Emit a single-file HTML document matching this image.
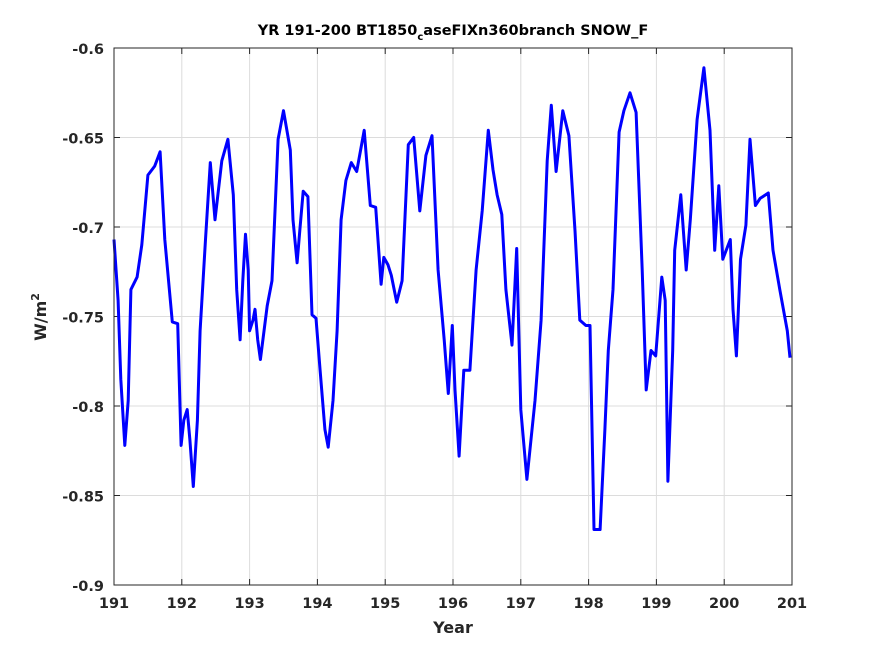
<!DOCTYPE html>
<html><head><meta charset="utf-8">
<style>
html,body{margin:0;padding:0;background:#fff;}
svg{display:block;font-family:"DejaVu Sans","Liberation Sans",sans-serif;}
</style></head>
<body>
<svg id="chart" width="875" height="656" viewBox="0 0 875 656" xmlns="http://www.w3.org/2000/svg">
<rect width="875" height="656" fill="#fff"/>
<text x="453" y="35" text-anchor="middle" font-size="14.5" font-weight="bold" fill="#000">YR 191-200 BT1850<tspan font-size="10" dy="5">c</tspan><tspan dy="-5">aseFIXn360branch SNOW_F</tspan></text>
<g id="grid"></g>
<g id="ticks"></g>
<path id="series" fill="none" stroke="#0000ff" stroke-width="3" stroke-linejoin="round"/>
<rect x="114" y="48" width="678" height="537" fill="none" stroke="#262626" stroke-width="1"/>
<text x="453" y="633" text-anchor="middle" font-size="16" font-weight="bold" fill="#262626">Year</text>
<text transform="translate(46,317) rotate(-90)" text-anchor="middle" font-size="16" font-weight="bold" fill="#262626">W/m<tspan font-size="11" dy="-7">2</tspan></text>
</svg>
<script>
const xTicks = [191,192,193,194,195,196,197,198,199,200,201];
const yTicks = [-0.9,-0.85,-0.8,-0.75,-0.7,-0.65,-0.6];
const yTickLabels = ["-0.9","-0.85","-0.8","-0.75","-0.7","-0.65","-0.6"];
const years = [191.00,191.06,191.10,191.16,191.21,191.25,191.34,191.41,191.50,191.60,191.68,191.75,191.86,191.94,191.99,192.03,192.08,192.12,192.17,192.23,192.27,192.35,192.42,192.49,192.59,192.68,192.76,192.81,192.86,192.90,192.94,192.98,193.00,193.05,193.08,193.12,193.16,193.26,193.33,193.42,193.50,193.60,193.64,193.70,193.74,193.79,193.86,193.92,193.98,194.04,194.11,194.16,194.23,194.29,194.35,194.42,194.50,194.58,194.69,194.78,194.86,194.94,194.98,195.04,195.09,195.17,195.25,195.34,195.42,195.51,195.60,195.69,195.78,195.87,195.93,195.99,196.03,196.09,196.16,196.25,196.34,196.43,196.52,196.59,196.65,196.72,196.78,196.87,196.94,197.00,197.09,197.21,197.30,197.39,197.45,197.52,197.62,197.71,197.80,197.87,197.96,198.02,198.08,198.17,198.24,198.29,198.36,198.45,198.52,198.61,198.70,198.79,198.85,198.92,198.99,199.08,199.13,199.17,199.24,199.27,199.36,199.44,199.50,199.60,199.70,199.79,199.86,199.92,199.98,200.09,200.13,200.18,200.24,200.32,200.38,200.46,200.53,200.65,200.72,200.82,200.93,200.97];
const values = [-0.707,-0.741,-0.785,-0.822,-0.797,-0.735,-0.728,-0.710,-0.671,-0.666,-0.658,-0.707,-0.753,-0.754,-0.822,-0.808,-0.802,-0.819,-0.845,-0.808,-0.758,-0.707,-0.664,-0.696,-0.663,-0.651,-0.682,-0.735,-0.763,-0.730,-0.704,-0.724,-0.758,-0.752,-0.746,-0.763,-0.774,-0.744,-0.730,-0.651,-0.635,-0.657,-0.696,-0.720,-0.702,-0.680,-0.683,-0.749,-0.751,-0.780,-0.813,-0.823,-0.797,-0.758,-0.696,-0.674,-0.664,-0.669,-0.646,-0.688,-0.689,-0.732,-0.717,-0.721,-0.727,-0.742,-0.730,-0.654,-0.650,-0.691,-0.660,-0.649,-0.724,-0.763,-0.793,-0.755,-0.791,-0.828,-0.780,-0.780,-0.724,-0.691,-0.646,-0.668,-0.682,-0.693,-0.735,-0.766,-0.712,-0.802,-0.841,-0.797,-0.752,-0.663,-0.632,-0.669,-0.635,-0.649,-0.702,-0.752,-0.755,-0.755,-0.869,-0.869,-0.813,-0.769,-0.735,-0.647,-0.635,-0.625,-0.636,-0.724,-0.791,-0.769,-0.772,-0.728,-0.741,-0.842,-0.769,-0.713,-0.682,-0.724,-0.696,-0.640,-0.611,-0.646,-0.713,-0.677,-0.718,-0.707,-0.746,-0.772,-0.718,-0.699,-0.651,-0.688,-0.684,-0.681,-0.713,-0.735,-0.758,-0.773];

const L=114,T=48,W=678,H=537;
const xMin=191,xMax=201,yMin=-0.9,yMax=-0.6;
function sx(v){return L+(v-xMin)/(xMax-xMin)*W;}
function sy(v){return T+(yMax-v)/(yMax-yMin)*H;}
const NS="http://www.w3.org/2000/svg";
const grid=document.getElementById('grid'), ticks=document.getElementById('ticks'), svg=document.getElementById('chart');
function mk(tag,attrs,parent){const e=document.createElementNS(NS,tag);for(const k in attrs)e.setAttribute(k,attrs[k]);parent.appendChild(e);return e;}
xTicks.forEach(function(t){
  const x=sx(t);
  const g=mk('line',{x1:x,x2:x,y1:T,y2:T+H,stroke:'#dcdcdc','stroke-width':1},grid);
  
  
  mk('line',{x1:x,x2:x,y1:T+H,y2:T+H-6,stroke:'#262626'},ticks);
  mk('line',{x1:x,x2:x,y1:T,y2:T+6,stroke:'#262626'},ticks);
  const lb=mk('text',{x:x,y:T+H+23,'text-anchor':'middle','font-size':'14.5','font-weight':'bold',fill:'#262626'},svg);
  
  
  lb.textContent=String(t);
});
yTicks.forEach(function(t,i){
  const y=sy(t);
  const g=mk('line',{x1:L,x2:L+W,y1:y,y2:y,stroke:'#dcdcdc','stroke-width':1},grid);
  
  
  mk('line',{x1:L,x2:L+6,y1:y,y2:y,stroke:'#262626'},ticks);
  mk('line',{x1:L+W,x2:L+W-6,y1:y,y2:y,stroke:'#262626'},ticks);
  const lb=mk('text',{x:L-10,y:y+6,'text-anchor':'end','font-size':'14.5','font-weight':'bold',fill:'#262626'},svg);
  
  
  lb.textContent=yTickLabels[i];
});
let d='';
years.forEach(function(yr,i){d+=(i?'L':'M')+sx(yr).toFixed(1)+','+sy(values[i]).toFixed(1);});
document.getElementById('series').setAttribute('d',d);
</script>
</body></html>
